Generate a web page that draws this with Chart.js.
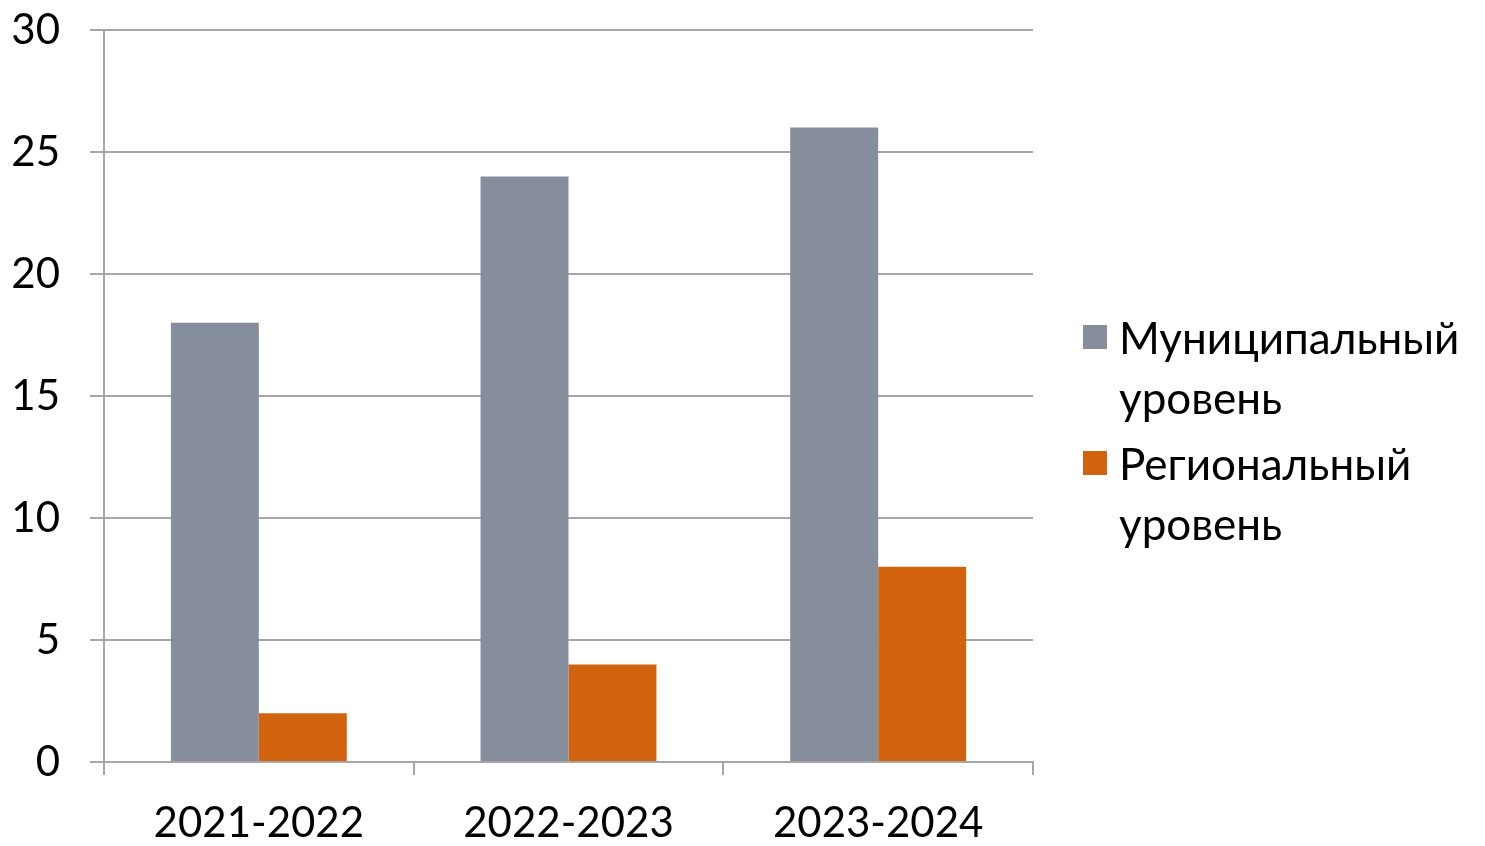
<!DOCTYPE html>
<html>
<head>
<meta charset="utf-8">
<script src="https://cdn.jsdelivr.net/npm/chart.js@4/dist/chart.umd.min.js"></script>
<style>
  html, body { margin: 0; padding: 0; background: #ffffff; }
  #wrap { position: relative; width: 1485px; height: 846px; }
  #legend { position: absolute; left: 1083px; top: 307px; width: 400px;
            font-family: Lato, "Open Sans", sans-serif; font-size: 44px; color: #000; }
  .item { position: relative; padding-left: 36px; line-height: 60px; margin-bottom: 6px; }
  .box { position: absolute; left: 0; top: 18px; width: 24px; height: 24px; }
</style>
</head>
<body>
<div id="wrap">
  <canvas id="c" width="1485" height="846"></canvas>
  <div id="legend"></div>
</div>
<script>
const categories = ["2021-2022", "2022-2023", "2023-2024"];
const seriesNames = ["Муниципальный уровень", "Региональный уровень"];
const municipal = [18, 24, 26];
const regional = [2, 4, 8];
const yTicks = [0, 5, 10, 15, 20, 25, 30];

const colors = ["#868E9B", "#D2620E"];
const gridColor = "#A6A6A6";
const fontFamily = "Lato, 'Open Sans', sans-serif";

const htmlLegend = {
  id: "htmlLegend",
  afterUpdate(chart) {
    const el = document.getElementById("legend");
    el.innerHTML = "";
    chart.data.datasets.forEach((ds) => {
      const item = document.createElement("div");
      item.className = "item";
      const box = document.createElement("span");
      box.className = "box";
      box.style.background = ds.backgroundColor;
      item.appendChild(box);
      ds.label.split(" ").forEach((w) => {
        const line = document.createElement("div");
        line.textContent = w;
        item.appendChild(line);
      });
      el.appendChild(item);
    });
  }
};

new Chart(document.getElementById("c"), {
  type: "bar",
  data: {
    labels: categories,
    datasets: [
      { label: seriesNames[0], data: municipal, backgroundColor: colors[0] },
      { label: seriesNames[1], data: regional, backgroundColor: colors[1] }
    ]
  },
  options: {
    responsive: false,
    animation: false,
    devicePixelRatio: 1,
    layout: { padding: { top: 30, right: 452, left: 0, bottom: 0 } },
    datasets: { bar: { categoryPercentage: 0.568, barPercentage: 1.0 } },
    plugins: { legend: { display: false }, tooltip: { enabled: false } },
    scales: {
      x: {
        offset: true,
        grid: { offset: true, drawOnChartArea: false, drawTicks: true, tickLength: 13,
                color: gridColor, lineWidth: 2 },
        border: { display: true, color: gridColor, width: 2 },
        ticks: { color: "#000", font: { family: fontFamily, size: 42 }, padding: 23 },
        afterFit(scale) { scale.height = 84; scale.paddingLeft = 0; scale.paddingRight = 0; }
      },
      y: {
        min: 0, max: 30,
        afterBuildTicks(scale) { scale.ticks = yTicks.map(v => ({ value: v })); },
        grid: { color: gridColor, lineWidth: 2, drawTicks: true, tickLength: 14 },
        border: { display: true, color: gridColor, width: 2 },
        ticks: { color: "#000", font: { family: fontFamily, size: 42 }, padding: 30 },
        afterFit(scale) { scale.width = 104; scale.paddingTop = 0; scale.paddingBottom = 0; }
      }
    }
  },
  plugins: [htmlLegend]
});
</script>
</body>
</html>
